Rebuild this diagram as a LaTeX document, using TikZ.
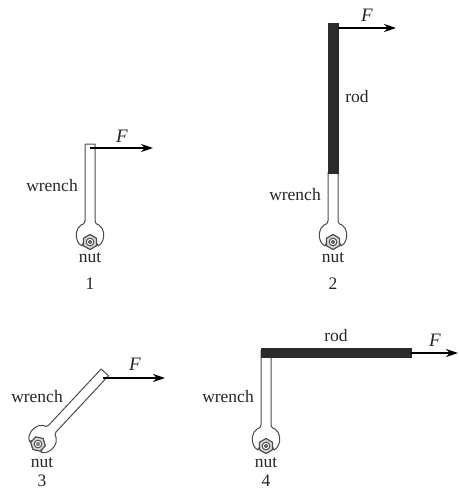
\documentclass[tikz,border=0pt]{standalone}
\usepackage{fontspec}
\setmainfont{Liberation Serif}
\usetikzlibrary{arrows.meta}
\definecolor{rodc}{HTML}{2B2B2B}
\tikzset{
 x=1pt,y=-1pt,
 lbl/.style={inner sep=0pt,font=\fontsize{17.5}{17.5}\selectfont,text=black!85},
 flbl/.style={inner sep=0pt,font=\fontsize{19}{19}\selectfont\itshape,text=black!85},
 force/.style={draw=black,line width=1.6pt,-{Stealth[length=12pt,width=8pt]}},
 wline/.style={draw=black!70,line width=1pt,line join=round},
 rodbar/.style={fill=rodc,draw=rodc,line width=0.4pt},
 pics/wrench/.style={code={
   \draw[wline] (-5,-#1) -- (5,-#1) -- (5,-21)
      .. controls (5,-18) and (7,-18) .. (9,-17)
      .. controls (14,-14) and (15,-5) .. (12.5,-1)
      .. controls (12,1) and (10,3) .. (8,4)
      -- (7,1.5);
   \draw[wline] (-5,-#1) -- (-5,-21)
      .. controls (-5,-18) and (-7,-18) .. (-9,-17)
      .. controls (-14,-14) and (-15,-5) .. (-12.5,-1)
      .. controls (-12,1) and (-10,3) .. (-8,4)
      -- (-7,1.5);
   \draw[wline,line width=1.2pt,fill=black!15] (30:7.5) -- (90:7.5) -- (150:7.5) -- (210:7.5) -- (270:7.5) -- (330:7.5) -- cycle;
   \draw[wline,fill=white] (0,0) circle (3.8);
   \draw[wline,fill=black!10] (0,0) circle (1.6);
 }}
}
\begin{document}
\begin{tikzpicture}
\useasboundingbox (0,0) rectangle (458,492);
% 1
\pic at (90,242) {wrench=98};
\coordinate (a1) at (90,148); \coordinate (b1) at (153,148);
\draw[force] (a1) -- (b1);
\node[flbl] (f1) at (122,136) {F};
\node[lbl] (w1) at (52,186) {wrench};
\node[lbl] (n1) at (90,258) {nut};
\node[lbl] (c1) at (90,284) {1};
% 2
\pic at (333,242) {wrench=70};
\fill[rodbar] (328.5,23) rectangle (338,173);
\coordinate (a2) at (338,28); \coordinate (b2) at (396,28);
\draw[force] (a2) -- (b2);
\node[flbl] (f2) at (367,15) {F};
\node[lbl] (r2) at (357,97) {rod};
\node[lbl] (w2) at (295,195) {wrench};
\node[lbl] (n2) at (333,258) {nut};
\node[lbl] (c2) at (333,284) {2};
% 3
\pic[rotate=-43] at (38,444) {wrench=98};
\coordinate (a3) at (103,378); \coordinate (b3) at (165,378);
\draw[force] (a3) -- (b3);
\node[flbl] (f3) at (135,364) {F};
\node[lbl] (w3) at (37,397) {wrench};
\node[lbl] (n3) at (42,463) {nut};
\node[lbl] (c3) at (42,481) {3};
% 4
\pic at (266,446) {wrench=96};
\fill[rodbar] (261,348) rectangle (411,357);
\coordinate (a4) at (411,353); \coordinate (b4) at (458,353);
\draw[force] (a4) -- (b4);
\node[flbl] (f4) at (435,340) {F};
\node[lbl] (r4) at (336,336) {rod};
\node[lbl] (w4) at (228,397) {wrench};
\node[lbl] (n4) at (266,463) {nut};
\node[lbl] (c4) at (266,481) {4};
\end{tikzpicture}
\end{document}
